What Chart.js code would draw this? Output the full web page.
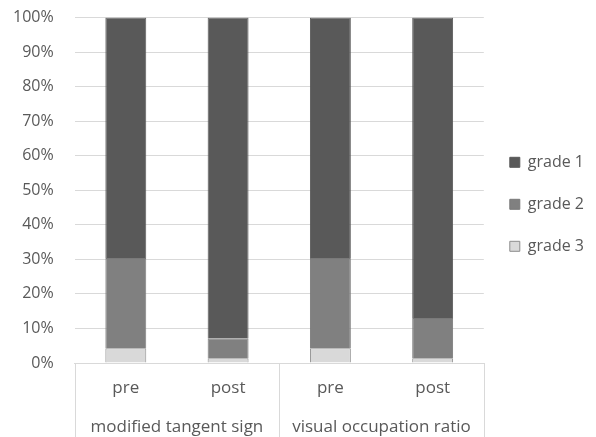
<!DOCTYPE html>
<html>
<head>
<meta charset="utf-8">
<script src="https://cdn.jsdelivr.net/npm/chart.js@4"></script>
<style>
  html, body { margin: 0; padding: 0; background: #fff; }
  #wrap { width: 596px; height: 437px; }
</style>
</head>
<body>
<div id="wrap"><canvas id="gradeChart"></canvas></div>
<script>
const timepoints = ['pre', 'post', 'pre', 'post'];
const methods = ['modified tangent sign', 'visual occupation ratio'];
const grade1 = [69.6, 92.8, 69.6, 87.0];
const grade2 = [26.1, 5.8, 26.1, 11.6];
const grade3 = [4.3, 1.4, 4.3, 1.4];
const yTicks = [0, 10, 20, 30, 40, 50, 60, 70, 80, 90, 100];

const FONT = "'Open Sans', sans-serif";
const TEXT = '#595959';

// vertical separators of the two-level category axis
const separators = {
    id: 'separators',
    afterDraw(chart) {
        const x2 = chart.scales.x2;
        const top = chart.chartArea.bottom;
        const bottom = chart.height;
        const half = (x2.getPixelForValue(1) - x2.getPixelForValue(0)) / 2;
        const xs = methods.map((m, i) => x2.getPixelForValue(i) - half);
        xs.push(x2.getPixelForValue(methods.length - 1) + half);
        const ctx = chart.ctx;
        ctx.save();
        ctx.strokeStyle = '#d9d9d9';
        ctx.lineWidth = 1;
        xs.forEach(x => {
            ctx.beginPath();
            ctx.moveTo(Math.round(x) + 0.5, top);
            ctx.lineTo(Math.round(x) + 0.5, bottom);
            ctx.stroke();
        });
        ctx.restore();
    }
};

const ctx = document.getElementById('gradeChart').getContext('2d');
const gradeChart = new Chart(ctx, {
    type: 'bar',
    data: {
        labels: timepoints,
        datasets: [
            { label: 'grade 3', data: grade3, backgroundColor: '#d9d9d9', borderColor: '#8c8c8c', borderWidth: 1 },
            { label: 'grade 2', data: grade2, backgroundColor: '#808080', borderColor: '#7a7a7a', borderWidth: 1 },
            { label: 'grade 1', data: grade1, backgroundColor: '#595959', borderColor: '#595959', borderWidth: 1 }
        ]
    },
    options: {
        responsive: true,
        maintainAspectRatio: false,
        animation: false,
        barPercentage: 0.4,
        categoryPercentage: 1.0,
        layout: { padding: { top: 0, left: 5, right: 2, bottom: 0 } },
        scales: {
            x: {
                stacked: true,
                grid: { display: false, drawTicks: false },
                border: { display: true, color: '#d9d9d9' },
                afterFit: axis => { axis.height = 37; },
                ticks: {
                    color: TEXT, padding: 15, maxRotation: 0, minRotation: 0, autoSkip: false,
                    font: { size: 17, family: FONT }
                }
            },
            x2: {
                type: 'category',
                labels: methods,
                position: 'bottom',
                offset: true,
                grid: { display: false, drawTicks: false },
                border: { display: false },
                afterFit: axis => { axis.height = 37; },
                ticks: {
                    color: TEXT, padding: 17, maxRotation: 0, minRotation: 0, autoSkip: false,
                    font: { size: 17, family: FONT }
                }
            },
            y: {
                stacked: true,
                min: 0,
                max: 100,
                grid: { color: '#d9d9d9', drawTicks: true, tickLength: 13, tickColor: 'rgba(0,0,0,0)' },
                border: { display: false },
                afterBuildTicks: axis => { axis.ticks = yTicks.map(v => ({ value: v })); },
                ticks: {
                    color: TEXT,
                    padding: 8,
                    font: { size: 16, family: FONT },
                    callback: v => v + '%'
                }
            }
        },
        plugins: {
            legend: {
                position: 'right',
                reverse: true,
                fullSize: false,
                title: { display: true, text: ' ', font: { size: 10 }, padding: { top: 8, bottom: 8 } },
                labels: {
                    boxWidth: 10,
                    boxHeight: 10,
                    padding: 26,
                    color: TEXT,
                    font: { size: 16, family: FONT }
                }
            },
            tooltip: { enabled: false }
        }
    },
    plugins: [separators]
});
</script>
</body>
</html>
